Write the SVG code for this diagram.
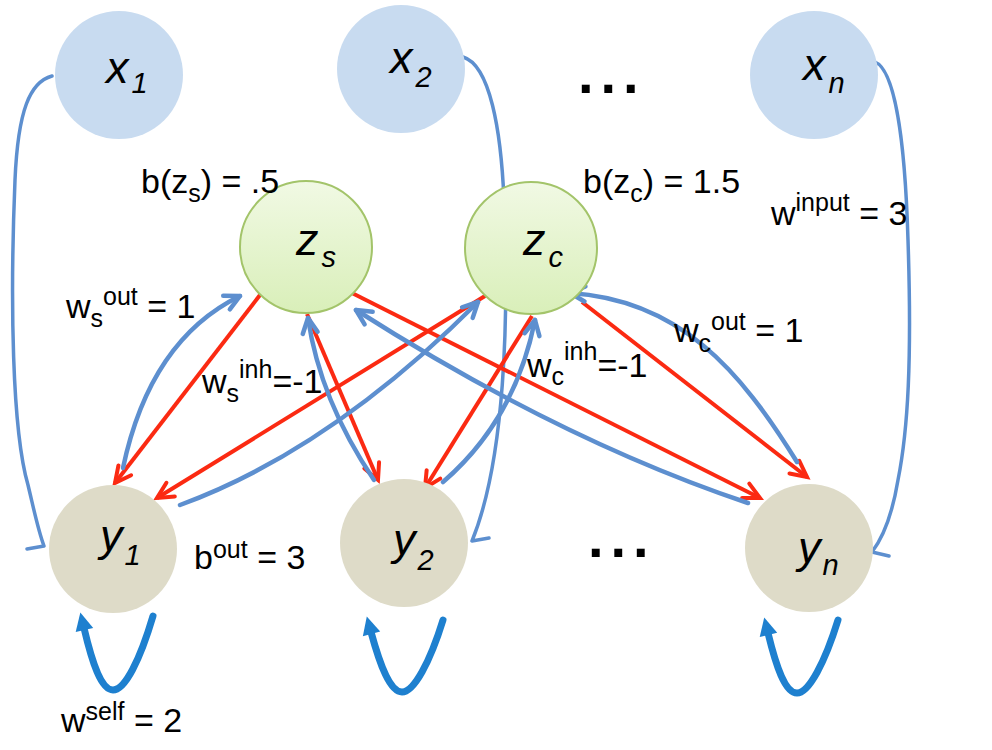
<svg xmlns="http://www.w3.org/2000/svg" width="992" height="750" viewBox="0 0 992 750">
<style>
.lb{font-family:"Liberation Sans",Arial,sans-serif;font-size:34px;fill:#000}
.sm{font-size:25px}
.nd{font-family:"Liberation Sans",Arial,sans-serif;font-style:italic;font-size:45px;fill:#000}
.ns{font-size:29px}
.dots{font-family:"Liberation Sans",Arial,sans-serif;font-weight:bold;font-size:56px;letter-spacing:7px;fill:#000}
.xn{fill:#c8dbf0}
.yn{fill:#dedbc8}
.zn{fill:url(#zg);stroke:#a3c46a;stroke-width:2}
.inp{fill:none;stroke:#5d8fcf;stroke-width:3.5;stroke-linecap:round}
.out{fill:none;stroke:#5d8fcf;stroke-width:4.5;stroke-linecap:round;marker-end:url(#ab)}
.inh{fill:none;stroke:#fb2a12;stroke-width:4;marker-end:url(#ar)}
.self{fill:none;stroke:#1e80cf;stroke-width:7;stroke-linecap:round;marker-end:url(#as)}
</style>
<defs>
<linearGradient id="zg" x1="0" y1="0" x2="0" y2="1">
<stop offset="0" stop-color="#f1f9e4"/>
<stop offset="1" stop-color="#d9efb9"/>
</linearGradient>
<marker id="ab" markerUnits="userSpaceOnUse" markerWidth="40" markerHeight="40" viewBox="-20 -20 40 40" refX="0" refY="0" orient="auto" overflow="visible">
<path d="M-15,-7.5 L0,0 L-15,7.5" fill="none" stroke="#5d8fcf" stroke-width="4.5" stroke-linecap="round" stroke-linejoin="round"/>
</marker>
<marker id="ar" markerUnits="userSpaceOnUse" markerWidth="40" markerHeight="40" viewBox="-20 -20 40 40" refX="0" refY="0" orient="auto" overflow="visible">
<path d="M-16,-8 L0,0 L-16,8" fill="none" stroke="#fb2a12" stroke-width="4" stroke-linecap="round" stroke-linejoin="miter"/>
</marker>
<marker id="as" markerUnits="userSpaceOnUse" markerWidth="40" markerHeight="40" viewBox="-20 -20 40 40" refX="0" refY="0" orient="auto" overflow="visible">
<path d="M-2,-9 L16,0 L-2,9 Z" fill="#1e80cf"/>
</marker>
</defs>

<g id="connectors">
<path class="inp" d="M52,76 C30,82 18,110 15,180 C10,300 12,430 28,485 C34,510 38,530 44,546 M44,546 L27,549"/>
<path class="inp" d="M463,57 C490,65 501,130 504,200 C509,320 505,460 472,541 M472,541 L489,538"/>
<path class="inp" d="M875,62 C895,70 905,140 908,240 C912,360 908,430 898,480 C893,510 885,535 872,552 M872,552 L889,556"/>
<path class="inh" d="M260,295 L115,483"/>
<path class="inh" d="M307,314 L378,480"/>
<path class="inh" d="M352,293 L760,498"/>
<path class="inh" d="M485,296 L157,498"/>
<path class="inh" d="M532,316 L425,488"/>
<path class="inh" d="M582,302 L807,477"/>
<path class="out" d="M123,468 Q150,340 240,296"/>
<path class="out" d="M374,480 Q320,400 308,318"/>
<path class="out" d="M748,503 Q560,440 356,310"/>
<path class="out" d="M180,505 Q330,450 478,302"/>
<path class="out" d="M443,482 Q515,420 535,320"/>
<path class="out" d="M797,462 C740,370 680,300 570,293"/>
<path class="self" d="M153,616 C140,660 125,690 113,690 C101,690 92,662 84,628"/>
<path class="self" d="M443,620 C430,662 414,692 402,692 C390,692 380,665 371,632"/>
<path class="self" d="M838,620 C825,662 809,693 797,693 C785,693 776,666 768,633"/>
</g>

<g id="node-x1"><circle class="xn" cx="119" cy="75" r="64"/><text class="nd" x="106" y="83">x<tspan class="ns" dy="10" dx="3">1</tspan></text></g>
<g id="node-x2"><circle class="xn" cx="401" cy="69" r="64"/><text class="nd" x="390" y="73">x<tspan class="ns" dy="14" dx="3">2</tspan></text></g>
<g id="node-xn"><circle class="xn" cx="814" cy="75" r="64"/><text class="nd" x="803" y="80">x<tspan class="ns" dy="13" dx="3">n</tspan></text></g>
<g id="dots-top"><text class="dots" x="578" y="93">...</text></g>

<g id="node-zs"><circle class="zn" cx="306" cy="247" r="66"/><text class="nd" x="296" y="255">z<tspan class="ns" dy="12" dx="3">s</tspan></text></g>
<g id="node-zc"><circle class="zn" cx="531" cy="248" r="66"/><text class="nd" x="523" y="255">z<tspan class="ns" dy="12" dx="3">c</tspan></text></g>

<g id="node-y1"><circle class="yn" cx="113" cy="549" r="64"/><text class="nd" x="100" y="551">y<tspan class="ns" dy="14" dx="2">1</tspan></text></g>
<g id="node-y2"><circle class="yn" cx="404" cy="543" r="64"/><text class="nd" x="393" y="555">y<tspan class="ns" dy="15" dx="2">2</tspan></text></g>
<g id="node-yn"><circle class="yn" cx="809" cy="548" r="64"/><text class="nd" x="798" y="563">y<tspan class="ns" dy="12" dx="2">n</tspan></text></g>
<g id="dots-bottom"><text class="dots" x="588" y="557">...</text></g>

<g id="labels">
<text class="lb" x="141" y="193">b(z<tspan class="sm" dy="9">s</tspan><tspan dy="-9">) = .5</tspan></text>
<text class="lb" x="583" y="193">b(z<tspan class="sm" dy="9">c</tspan><tspan dy="-9">) = 1.5</tspan></text>
<text class="lb" x="771" y="225">w<tspan class="sm" dy="-14">input</tspan><tspan dy="14"> = 3</tspan></text>
<text class="lb" x="66" y="318">w<tspan class="sm" dy="9">s</tspan><tspan class="sm" dy="-22">out</tspan><tspan dy="13"> = 1</tspan></text>
<text class="lb" x="202" y="393">w<tspan class="sm" dy="9">s</tspan><tspan class="sm" dy="-24">inh</tspan><tspan dy="15">=-1</tspan></text>
<text class="lb" x="527" y="377">w<tspan class="sm" dy="8">c</tspan><tspan class="sm" dy="-25">inh</tspan><tspan dy="17">=-1</tspan></text>
<text class="lb" x="674" y="342">w<tspan class="sm" dy="10">c</tspan><tspan class="sm" dy="-22">out</tspan><tspan dy="12"> = 1</tspan></text>
<text class="lb" x="194" y="569">b<tspan class="sm" dy="-11">out</tspan><tspan dy="11"> = 3</tspan></text>
<text class="lb" x="61" y="732">w<tspan class="sm" dy="-12">self</tspan><tspan dy="12"> = 2</tspan></text>
</g>
</svg>
